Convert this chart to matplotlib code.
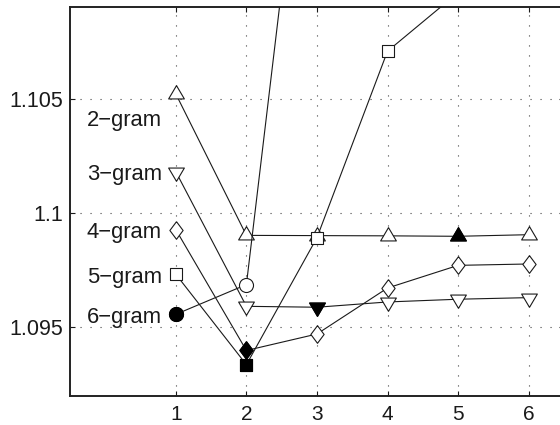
import numpy as np
import matplotlib
matplotlib.use('Agg')
import matplotlib.pyplot as plt
from matplotlib.ticker import FixedLocator, FuncFormatter

plt.rcParams['font.family'] = ['Liberation Sans', 'DejaVu Sans']

# n-gram order on the x axis, one curve per n-gram model
x = [1, 2, 3, 4, 5, 6]
labels = ['2\u2212gram', '3\u2212gram', '4\u2212gram', '5\u2212gram', '6\u2212gram']
gram2 = [1.1052, 1.09902, 1.09901, 1.09900, 1.09898, 1.09905]
gram3 = [1.10180, 1.09592, 1.09588, 1.09611, 1.09623, 1.09630]
gram4 = [1.09927, 1.09399, 1.09471, 1.09672, 1.09771, 1.09777]
gram5 = [1.09732, 1.09337, 1.09892, 1.10707, 1.10963, 1.11020]
gram6 = [1.09557, 1.09687, 1.12273, 1.12450, 1.12520, 1.12580]
series = [gram2, gram3, gram4, gram5, gram6]

yticks = [1.095, 1.1, 1.105]

# matlab-ish markers (triangles wider than tall, tall diamond)
tri_up = [(0, 1), (-0.885, -0.5), (0.885, -0.5), (0, 1)]
tri_down = [(0, -1), (-0.885, 0.5), (0.885, 0.5), (0, -1)]
diamond = [(0, 1), (0.75, 0), (0, -1), (-0.75, 0), (0, 1)]
square = [(-1, -1), (1, -1), (1, 1), (-1, 1), (-1, -1)]
markers = [(tri_up, 12.8), (tri_down, 12.8), (diamond, 12.7), (square, 8.4), ('o', 10.1)]

fig = plt.figure(figsize=(5.6, 4.25), dpi=100)
ax = fig.add_axes([0.125, 0.0682, 0.882, 0.9153])

for vals, (mk, ms), lab in zip(series, markers, labels):
    ax.plot(x, vals, color='#1a1a1a', lw=0.8, marker=mk, ms=ms,
            mfc='white', mec='#1a1a1a', mew=0.8, zorder=3)
    i = int(np.argmin(vals))
    ax.plot(x[i], vals[i], ls='none', marker=mk, ms=ms,
            mfc='black', mec='black', mew=0.8, zorder=4)

# labels to the left of the first point
for k, (vals, lab) in enumerate(zip(series, labels)):
    dy = -19 if k == 0 else -2
    ax.annotate(lab, xy=(x[0], vals[0]), xytext=(-10, dy),
                textcoords='offset points', ha='right', va='center',
                fontsize=15.8, color='#1a1a1a')

ax.set_xlim(-0.5, 6.5)
ax.set_ylim(1.092, 1.109)
ax.xaxis.set_major_locator(FixedLocator(x))
ax.yaxis.set_major_locator(FixedLocator(yticks))
ax.yaxis.set_major_formatter(FuncFormatter(lambda v, p: '%g' % v))

ax.grid(True, color='#444444', lw=0.8, linestyle=(0, (1, 8)))
ax.set_axisbelow(True)
ax.tick_params(direction='in', length=3.6, width=0.8, top=True, right=True,
               labelsize=15.5, colors='#1a1a1a')
ax.tick_params(axis='x', labelsize=15, pad=6.5)
ax.tick_params(axis='y', pad=5)
for s in ax.spines.values():
    s.set_linewidth(1.4)
    s.set_color('#222222')

fig.savefig('out.png', dpi=100)
